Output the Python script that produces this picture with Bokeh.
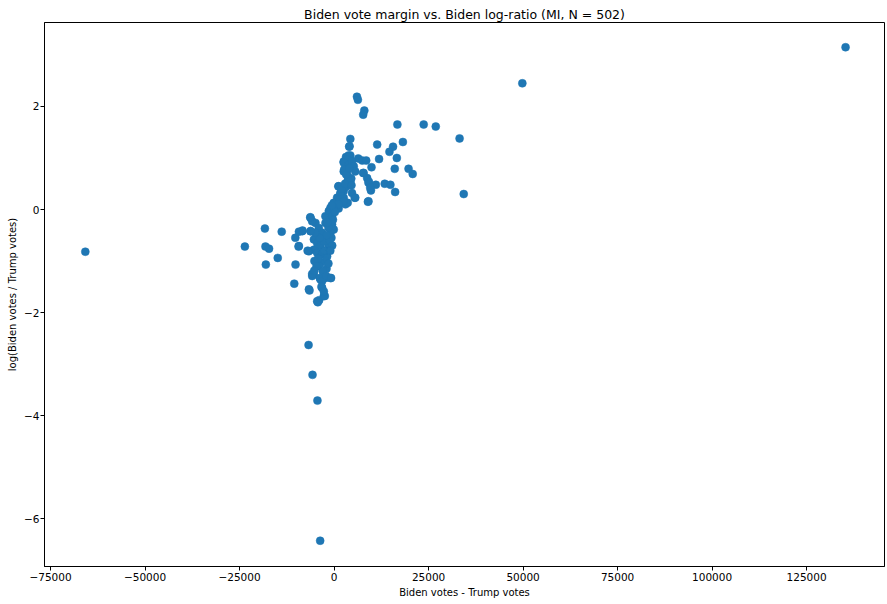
from bokeh.plotting import figure
from bokeh.models import Range1d, FixedTicker, ColumnDataSource
from bokeh.embed import file_html
from bokeh.resources import INLINE

margin = [
    -65800, 135300, 49800, 34300, 33200, 26900, 23700, 16750, 6050, 6300, 8000, 7700,
    4300, 11400, 18200, 15600, 14650, 4000, 16600, 11900, 6400, 7450, 8500, 2550, 3150, 3850,
    9900, 16050, 19700, 20800, 7700, 8750, 9200, 11050, 13400, 14900, 16150, 9750, 8950, 5450,
    1130, 4100, 4300, 3400, 2550, 3850, 4740, 2550, 3400, 3850, 4300, 3400, 5200, 5600, 7800,
    9100, 9550, 1230, 2550, 1670, 790, -90, -970, 4740, 5600, 9100, 4550, 3700, 3150, 2700,
    2550, 1670, 2000, 2900, 3200, 4000, 4600, 2200, 1500, 3000, 3600, 900, 500, 1200,
    2550, 1230, -90, -970, -1400, -530, -90, -970, -6230, -4920, -4030, -3160, -8420, -6230,
    -9300, -5340, -4470, -3600, -5340, -6660, -4470, -3160, -1840, -1400, -2710, -2290, -3600,
    -4030, -5340, -5790, -3600, -2290, -970, -3160, -2710, -6660, -4470, -3950, -2450, -5800,
    -6300, -2300, -1400, -2280, -530, -300, -700, -1200, -500, -1500, -2000, -2600, -1000,
    -3800, -5000, -4200, -2000, -1500, -3000, -300, 200, -600, -1800,
    -23600, -18300, -18150, -17200, -18050, -14900, -13850, -10250, -9300, -8350, -9400,
    -10200, -10530, -6500, -6200, -7000, -5200, -4650, -5800, -5260, -3760, -3160, -2100,
    -790, -3340, -2700, -4300, -6750, -5700, -4400, -3680,
]
log_ratio = [
    -0.82, 3.15, 2.45, 0.30, 1.38, 1.61, 1.65, 1.65, 2.19, 2.13, 1.92, 1.84,
    1.37, 1.26, 1.31, 1.22, 1.12, 1.22, 1.00, 0.98, 0.99, 0.95, 0.95, 0.93, 1.02, 1.05,
    0.82, 0.79, 0.79, 0.69, 0.71, 0.61, 0.54, 0.48, 0.50, 0.48, 0.34, 0.37, 0.15, 0.23,
    0.45, 1.23, 1.05, 0.97, 0.91, 0.87, 0.94, 0.74, 0.71, 0.62, 0.55, 0.52, 0.84, 0.74, 0.71,
    0.52, 0.42, 0.45, 0.36, 0.29, 0.23, 0.13, 0.03, 0.32, 0.23, 0.16, 0.60, 0.58, 0.44, 0.78,
    0.23, 0.32, 0.40, 0.50, 0.68, 0.80, 0.47, 0.15, 0.20, 0.10, 0.13, 0.10, 0.05, 0.02,
    0.16, 0.10, 0.00, -0.10, -0.19, -0.29, -0.39, -0.45, -0.16, -0.26, -0.36, -0.45, -0.42, -0.42,
    -0.71, -0.58, -0.65, -0.71, -0.78, -0.81, -0.84, -0.87, -0.91, -0.71, -0.62, -1.00, -1.04,
    -1.10, -1.26, -1.29, -1.36, -1.33, -1.33, -1.52, -1.68, -1.55, -1.78, -1.76, -1.68, -0.23,
    -0.15, -0.13, -0.03, -0.26, -0.13, -0.20, -0.55, -0.60, -0.70, -0.35, -0.50, -0.80, -0.80,
    -0.55, -0.45, -0.95, -1.15, -1.05, -1.20, 0.05, -0.05, 0.08, -0.25,
    -0.72, -0.37, -0.72, -0.76, -1.07, -0.94, -0.43, -0.55, -0.43, -0.41, -0.72,
    -1.07, -1.44, -1.57, -0.42, -0.80, -1.00, -1.10, -1.25, -1.19, -1.33, -1.39, -1.29,
    -1.33, -1.50, -1.59, -1.80, -2.63, -3.21, -3.71, -6.43,
]

x_ticks = [-75000, -50000, -25000, 0, 25000, 50000, 75000, 100000, 125000]
y_ticks = [-6, -4, -2, 0, 2]

FONT = "DejaVu Sans"

p = figure(
    width=887, height=604,
    output_backend="svg", toolbar_location=None,
    x_range=Range1d(-76600, 145600), y_range=Range1d(-6.93, 3.63),
    title="Biden vote margin vs. Biden log-ratio (MI, N = 502)",
    min_border_left=44, min_border_right=3, min_border_top=22, min_border_bottom=38,
)
p.background_fill_color = "white"
p.border_fill_color = "white"
p.outline_line_color = "black"
p.outline_line_alpha = 1.0
p.outline_line_width = 1

p.title.align = "center"
p.title.text_font = FONT
p.title.text_font_size = "12.5px"
p.title.text_font_style = "normal"
p.title.text_color = "black"
p.title.standoff = 2

p.xgrid.visible = False
p.ygrid.visible = False

def minus(v):
    return str(v).replace("-", "\u2212")

p.xaxis.ticker = FixedTicker(ticks=x_ticks)
p.yaxis.ticker = FixedTicker(ticks=y_ticks)
p.xaxis.major_label_overrides = {t: minus(t) for t in x_ticks}
p.yaxis.major_label_overrides = {t: minus(t) for t in y_ticks}
p.xaxis.axis_label = "Biden votes - Trump votes"
p.yaxis.axis_label = "log(Biden votes / Trump votes)"

for ax in (p.xaxis[0], p.yaxis[0]):
    ax.axis_line_color = "black"
    ax.major_tick_line_color = "black"
    ax.minor_tick_line_color = None
    ax.major_tick_in = 0
    ax.major_tick_out = 4
    ax.major_label_text_font = FONT
    ax.major_label_text_font_size = "10.5px"
    ax.major_label_text_color = "black"
    ax.axis_label_text_font = FONT
    ax.axis_label_text_font_size = "10px"
    ax.axis_label_text_font_style = "normal"
    ax.axis_label_text_color = "black"
    ax.major_label_standoff = 2
    ax.axis_label_standoff = 3

p.yaxis[0].major_label_standoff = 1

src = ColumnDataSource(dict(x=margin, y=log_ratio))
p.scatter("x", "y", source=src, size=8, fill_color="#1f77b4", line_color="#1f77b4", line_width=0.5)

open("out.html", "w").write(file_html(p, INLINE))
